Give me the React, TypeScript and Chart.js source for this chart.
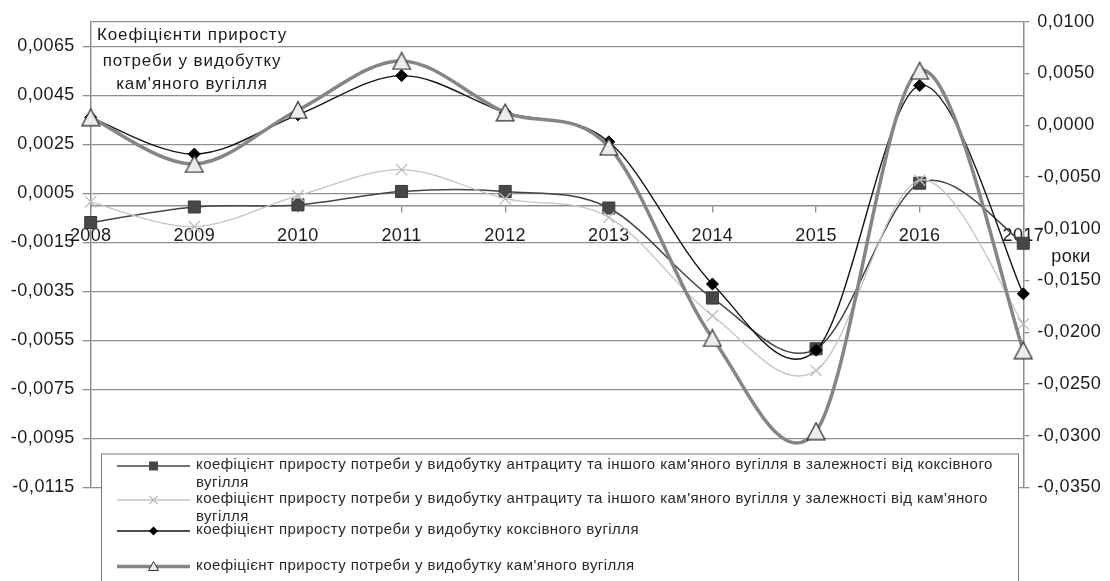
import React, { useEffect, useRef } from 'react';
import { Chart, registerables } from 'chart.js';

Chart.register(...registerables);

// Years on the category axis
const years = ['2008', '2009', '2010', '2011', '2012', '2013', '2014', '2015', '2016', '2017'];

// Right-hand axis series
const anthraciteByCoking = [-0.0094, -0.0079, -0.0077, -0.0064, -0.0064, -0.008, -0.0167, -0.0216, -0.0056, -0.0114];
const anthraciteByHard = [-0.0074, -0.0098, -0.0068, -0.0043, -0.0071, -0.0089, -0.0184, -0.0237, -0.0053, -0.0192];

// Left-hand axis series
const cokingCoal = [0.0036, 0.0021, 0.0037, 0.0053, 0.0038, 0.0026, -0.0032, -0.0059, 0.0049, -0.0036];
const hardCoal = [0.0036, 0.0017, 0.0039, 0.0059, 0.0038, 0.0024, -0.0054, -0.0092, 0.0055, -0.0059];

const seriesNames = [
  "коефіцієнт приросту потреби у видобутку антрациту та іншого кам'яного вугілля в залежності від коксівного вугілля",
  "коефіцієнт приросту потреби у видобутку антрациту та іншого кам'яного вугілля у залежності від кам'яного вугілля",
  'коефіцієнт приросту потреби у видобутку коксівного вугілля',
  "коефіцієнт приросту потреби у видобутку кам'яного вугілля",
];

// Axis ticks
const leftTicks = [-0.0115, -0.0095, -0.0075, -0.0055, -0.0035, -0.0015, 0.0005, 0.0025, 0.0045, 0.0065];
const leftMin = -0.0115;
const leftMax = 0.0075;
const rightTicks = [-0.035, -0.03, -0.025, -0.02, -0.015, -0.01, -0.005, 0, 0.005, 0.01];
const rightMin = -0.035;
const rightMax = 0.01;

const titleLines = ['Коефіцієнти приросту', 'потреби у видобутку', "кам'яного вугілля"];
const xAxisTitle = 'роки';

const FONT = '"Liberation Sans", Arial, sans-serif';
const GRID = '#8e8e8e';
const TEXT = '#1c1c1c';

const fmt = (v: number) => (Math.abs(v) < 1e-12 ? 0 : v).toFixed(4).replace('.', ',');

function makeTriangle(w: number, h: number, fill: string, stroke: string, lw: number) {
  const c = document.createElement('canvas');
  c.width = w;
  c.height = h;
  const g = c.getContext('2d')!;
  const p = lw / 2 + 0.5;
  g.beginPath();
  g.moveTo(w / 2, p);
  g.lineTo(w - p, h - p);
  g.lineTo(p, h - p);
  g.closePath();
  g.fillStyle = fill;
  g.fill();
  g.lineWidth = lw;
  g.strokeStyle = stroke;
  g.stroke();
  return c;
}

function wrapText(ctx: CanvasRenderingContext2D, text: string, maxWidth: number) {
  const words = text.split(' ');
  const lines: string[] = [];
  let cur = '';
  for (const w of words) {
    const test = cur ? cur + ' ' + w : w;
    if (ctx.measureText(test).width > maxWidth && cur) {
      lines.push(cur);
      cur = w;
    } else {
      cur = test;
    }
  }
  if (cur) lines.push(cur);
  return lines;
}

function drawMarker(ctx: CanvasRenderingContext2D, kind: string, x: number, y: number) {
  ctx.save();
  ctx.beginPath();
  if (kind === 'square') {
    ctx.fillStyle = '#474747';
    ctx.fillRect(x - 4.5, y - 4.5, 9, 9);
  } else if (kind === 'cross') {
    ctx.strokeStyle = '#bcbcbc';
    ctx.lineWidth = 1.2;
    ctx.moveTo(x - 4, y - 4);
    ctx.lineTo(x + 4, y + 4);
    ctx.moveTo(x + 4, y - 4);
    ctx.lineTo(x - 4, y + 4);
    ctx.stroke();
  } else if (kind === 'diamond') {
    ctx.fillStyle = '#000';
    ctx.moveTo(x, y - 4.5);
    ctx.lineTo(x + 4.5, y);
    ctx.lineTo(x, y + 4.5);
    ctx.lineTo(x - 4.5, y);
    ctx.closePath();
    ctx.fill();
  } else {
    ctx.fillStyle = '#f0f0f0';
    ctx.strokeStyle = '#333';
    ctx.lineWidth = 1;
    ctx.moveTo(x, y - 5);
    ctx.lineTo(x + 5, y + 4);
    ctx.lineTo(x - 5, y + 4);
    ctx.closePath();
    ctx.fill();
    ctx.stroke();
  }
  ctx.restore();
}

// Smooth lines with Catmull-Rom style control points (1/6 tangents,
// arm length limited to half of the neighbouring segment).
const smoothPlugin = {
  id: 'smoothCurves',
  beforeDatasetsDraw(chart: any) {
    chart.getSortedVisibleDatasetMetas().forEach((meta: any) => {
      const pts = meta.data;
      const n = pts.length;
      for (let i = 0; i < n; i++) {
        const p = pts[i];
        const prev = pts[i - 1] || p;
        const next = pts[i + 1] || p;
        const tx = (next.x - prev.x) / 6;
        const ty = (next.y - prev.y) / 6;
        const tl = Math.hypot(tx, ty);
        const dPrev = Math.hypot(p.x - prev.x, p.y - prev.y);
        const dNext = Math.hypot(next.x - p.x, next.y - p.y);
        let sIn = 1;
        let sOut = 1;
        if (tl > 0) {
          if (tl > dPrev / 2) sIn = dPrev / 2 / tl;
          if (tl > dNext / 2) sOut = dNext / 2 / tl;
        }
        p.cp1x = p.x - tx * sIn;
        p.cp1y = p.y - ty * sIn;
        p.cp2x = p.x + tx * sOut;
        p.cp2y = p.y + ty * sOut;
      }
      if (meta.dataset) meta.dataset._path = undefined;
    });
  },
};

const decorPlugin = {
  id: 'decor',
  beforeDraw(chart: any) {
    (chart.ctx as any).letterSpacing = '0.4px';
  },
  afterDraw(chart: any) {
    const ctx: CanvasRenderingContext2D = chart.ctx;
    ctx.save();

    // Title block at the top left of the plot
    (ctx as any).letterSpacing = '0.9px';
    ctx.font = `17px ${FONT}`;
    ctx.fillStyle = TEXT;
    ctx.textAlign = 'center';
    ctx.textBaseline = 'alphabetic';
    const titleBase = [39.5, 65.5, 88.5];
    titleLines.forEach((t, i) => ctx.fillText(t, 192, titleBase[i]));

    // Category axis caption
    (ctx as any).letterSpacing = '0.4px';
    ctx.font = `18px ${FONT}`;
    ctx.textBaseline = 'middle';
    ctx.fillText(xAxisTitle, 1071, 257);

    // Legend box
    const bx = 101, by = 453.5, bw = 917, bh = 140;
    ctx.fillStyle = '#fff';
    ctx.fillRect(bx, by, bw, bh);
    ctx.strokeStyle = '#7a7a7a';
    ctx.lineWidth = 1;
    ctx.strokeRect(bx + 0.5, by + 0.5, bw, bh);

    const kinds = ['square', 'cross', 'diamond', 'triangle'];
    const rowY = [466, 500, 531, 566.5];
    ctx.font = `15px ${FONT}`;
    (ctx as any).letterSpacing = '0.45px';
    ctx.textAlign = 'left';
    ctx.textBaseline = 'middle';
    chart.data.datasets.forEach((ds: any, i: number) => {
      const y = rowY[i];
      ctx.save();
      ctx.strokeStyle = ds.borderColor;
      ctx.lineWidth = ds.borderWidth;
      ctx.beginPath();
      ctx.moveTo(117, y);
      ctx.lineTo(190, y);
      ctx.stroke();
      ctx.restore();
      drawMarker(ctx, kinds[i], 153.5, y);
      ctx.fillStyle = '#2a2a2a';
      const lines = wrapText(ctx, ds.label, 815);
      lines.forEach((ln, j) => ctx.fillText(ln, 196, y - 1 + j * 17.5));
    });

    ctx.restore();
    (ctx as any).letterSpacing = '0px';
  },
};

export default function App() {
  const canvasRef = useRef<HTMLCanvasElement | null>(null);

  useEffect(() => {
    const canvas = canvasRef.current;
    if (!canvas) return;
    const triangle = makeTriangle(20, 19, '#ececec', '#333333', 1.2);

    const chart = new Chart(canvas, {
      type: 'line',
      data: {
        labels: years,
        datasets: [
          {
            label: seriesNames[0],
            data: anthraciteByCoking,
            yAxisID: 'y1',
            borderColor: '#454545',
            borderWidth: 1.5,
            pointStyle: 'rect',
            pointRadius: 8.5,
            pointBackgroundColor: '#474747',
            pointBorderColor: '#3a3a3a',
            pointBorderWidth: 1,
            tension: 0.4,
            order: 4,
          },
          {
            label: seriesNames[1],
            data: anthraciteByHard,
            yAxisID: 'y1',
            borderColor: '#c4c4c4',
            borderWidth: 1.3,
            pointStyle: 'crossRot',
            pointRadius: 8,
            pointBorderColor: '#bdbdbd',
            pointBorderWidth: 1.3,
            tension: 0.4,
            order: 3,
          },
          {
            label: seriesNames[2],
            data: cokingCoal,
            yAxisID: 'y',
            borderColor: '#141414',
            borderWidth: 1.4,
            pointStyle: 'rectRot',
            pointRadius: 6,
            pointBackgroundColor: '#000',
            pointBorderColor: '#000',
            pointBorderWidth: 1,
            tension: 0.4,
            order: 2,
          },
          {
            label: seriesNames[3],
            data: hardCoal,
            yAxisID: 'y',
            borderColor: '#858585',
            borderWidth: 3.5,
            pointStyle: triangle as any,
            pointRadius: 9,
            tension: 0.4,
            order: 1,
          },
        ],
      },
      options: {
        responsive: false,
        animation: false,
        devicePixelRatio: 1,
        layout: { padding: { top: 21.7, bottom: 93.5, left: 0, right: 0 } },
        plugins: {
          legend: { display: false },
          tooltip: { enabled: false },
          title: { display: false },
        },
        scales: {
          x: {
            type: 'category',
            position: { y: 0 } as any,
            offset: false,
            grid: {
              display: true,
              drawOnChartArea: false,
              drawTicks: true,
              tickLength: 6,
              color: GRID,
              lineWidth: 1.3,
            },
            border: { display: true, color: GRID, width: 1.5 },
            ticks: {
              autoSkip: false,
              maxRotation: 0,
              minRotation: 0,
              padding: 14,
              color: TEXT,
              font: { family: FONT, size: 18 },
            },
          },
          y: {
            type: 'linear',
            position: 'left',
            min: leftMin,
            max: leftMax,
            afterBuildTicks: (s: any) => {
              s.ticks = [...leftTicks, leftMax].map((v) => ({ value: v }));
            },
            afterFit: (s: any) => {
              s.width = 90.7;
            },
            grid: {
              color: GRID,
              lineWidth: 1.3,
              tickLength: 8,
              tickColor: (c: any) => (c.tick && c.tick.value === leftMax ? 'rgba(0,0,0,0)' : GRID),
            },
            border: { display: true, color: GRID, width: 1.5 },
            ticks: {
              padding: 8,
              color: TEXT,
              font: { family: FONT, size: 18 },
              callback: (v: any) => (v === leftMax ? '' : fmt(Number(v))),
            },
          },
          y1: {
            type: 'linear',
            position: 'right',
            min: rightMin,
            max: rightMax,
            afterBuildTicks: (s: any) => {
              s.ticks = rightTicks.map((v) => ({ value: v }));
            },
            afterFit: (s: any) => {
              s.width = 1110 - 1023.3;
            },
            grid: {
              drawOnChartArea: false,
              drawTicks: true,
              tickLength: 6,
              color: GRID,
              lineWidth: 1.3,
            },
            border: { display: true, color: GRID, width: 1.5 },
            ticks: {
              padding: 8,
              color: TEXT,
              font: { family: FONT, size: 18 },
              callback: (v: any) => fmt(Number(v)),
            },
          },
        },
      },
      plugins: [smoothPlugin, decorPlugin],
    });

    return () => chart.destroy();
  }, []);

  return (
    <div style={{ position: 'fixed', left: 0, top: 0, width: 1110, height: 581, background: '#fff' }}>
      <canvas ref={canvasRef} width={1110} height={581} style={{ display: 'block' }} />
    </div>
  );
}
